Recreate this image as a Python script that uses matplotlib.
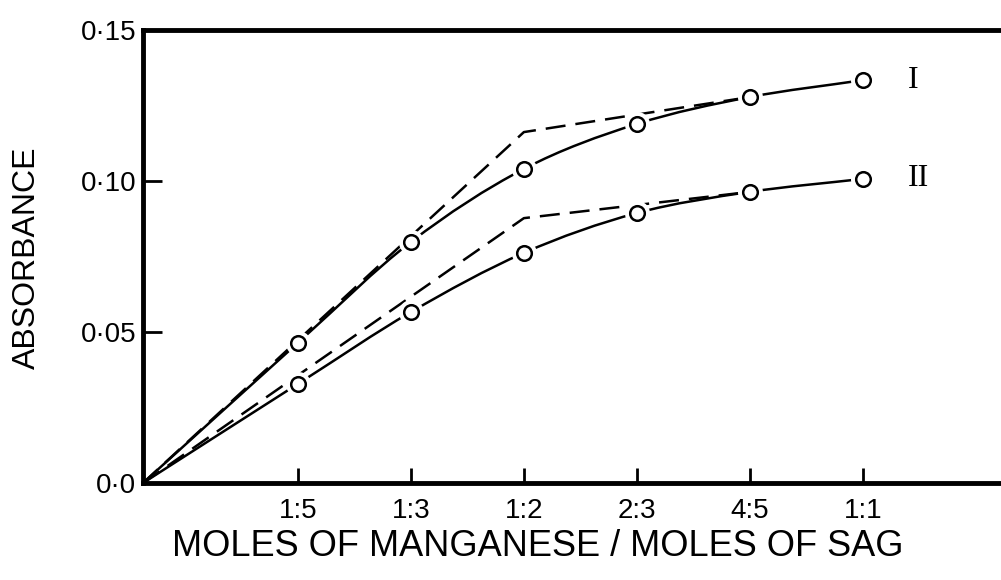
import numpy as np
import matplotlib
matplotlib.use("Agg")
import matplotlib.pyplot as plt
from matplotlib.path import Path
from matplotlib.patches import PathPatch

# ---- data ----
ratio_labels = ["1:5", "1:3", "1:2", "2:3", "4:5", "1:1"]
ratio_pos = [1, 2, 3, 4, 5, 6]
origin_x = -0.37
absorb_I = [0.0464, 0.0798, 0.1040, 0.1189, 0.1278, 0.1334]
absorb_II = [0.0328, 0.0566, 0.0762, 0.0894, 0.0964, 0.1007]
# dashed extrapolation lines: (x, y) breakpoints
dash_I_x = [origin_x, 3, 5]
dash_I_y = [0.0, 0.1162, 0.1278]
dash_II_x = [origin_x, 3, 5]
dash_II_y = [0.0, 0.0877, 0.0964]
series_names = ["I", "II"]
yticks = [0.0, 0.05, 0.10, 0.15]
ytick_labels = ["0·0", "0·05", "0·10", "0·15"]

plt.rcParams['font.family'] = ['Liberation Sans', 'DejaVu Sans']

fig = plt.figure(figsize=(10.01, 5.8), dpi=100)
ax = fig.add_axes([143/1001, 1-483/580, 1-143/1001, (483-30)/580])


def smooth_path(xs, ys):
    # Catmull-Rom spline through the points, as cubic Bezier segments
    P = np.column_stack([xs, ys]).astype(float)
    Pext = np.vstack([2*P[0]-P[1], P, 2*P[-1]-P[-2]])
    verts = [tuple(P[0])]
    codes = [Path.MOVETO]
    for i in range(1, len(Pext)-2):
        p0, p1, p2, p3 = Pext[i-1], Pext[i], Pext[i+1], Pext[i+2]
        c1 = p1 + (p2 - p0) / 6.0
        c2 = p2 - (p3 - p1) / 6.0
        verts += [tuple(c1), tuple(c2), tuple(p2)]
        codes += [Path.CURVE4]*3
    return Path(verts, codes)


lw = 1.8
for ys in (absorb_I, absorb_II):
    xs = [origin_x] + ratio_pos
    yy = [0.0] + ys
    ax.add_patch(PathPatch(smooth_path(xs, yy), fill=False, lw=lw,
                           edgecolor='black', zorder=2, capstyle='butt'))

for dx, dy in ((dash_I_x, dash_I_y), (dash_II_x, dash_II_y)):
    ax.plot(dx, dy, color='black', lw=lw, dashes=(8, 4), zorder=2)

for ys, name in zip((absorb_I, absorb_II), series_names):
    # white halo to give gaps between line and marker
    ax.plot(ratio_pos, ys, ls='none', marker='o', ms=18, mfc='white',
            mec='none', zorder=3)
    ax.plot(ratio_pos, ys, ls='none', marker='o', ms=10.5, mfc='white',
            mec='black', mew=1.8, zorder=4)
    ax.annotate(name, xy=(ratio_pos[-1], ys[-1]), xytext=(32, 0),
                textcoords='offset points', ha='left', va='center',
                fontsize=23, family=['Liberation Serif', 'DejaVu Serif'])

ax.set_xlim(origin_x, 6 + 138/113)
ax.set_ylim(0, 0.15)

ax.set_xticks(ratio_pos)
ax.set_xticklabels(ratio_labels)
ax.set_yticks(yticks)
ax.set_yticklabels(ytick_labels)
ax.tick_params(axis='y', direction='in', length=14, width=2, labelsize=20, pad=5)
ax.tick_params(axis='x', direction='in', length=11, width=2, labelsize=20, pad=11)

for s in ('left', 'top', 'bottom'):
    ax.spines[s].set_linewidth(3.5)
ax.spines['right'].set_visible(False)

ax.set_ylabel("ABSORBANCE", fontsize=23, va='center')
ax.yaxis.set_label_coords(-(143-27)/(1001-143), (483-258)/453)
ax.set_xlabel("MOLES OF MANGANESE / MOLES OF SAG", fontsize=26, va='center')
ax.xaxis.set_label_coords((538-143)/(1001-143), -(547-483)/453)

fig.savefig("out.png", dpi=100)
